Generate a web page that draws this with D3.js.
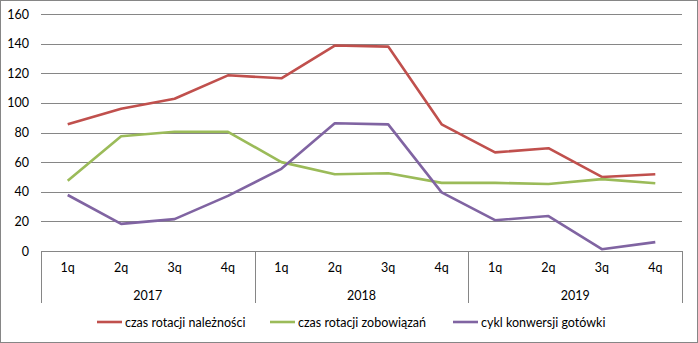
<!DOCTYPE html>
<html><head><meta charset="utf-8">
<script src="https://cdn.jsdelivr.net/npm/d3@7"></script>
<style>body{margin:0;background:#fff}svg{display:block}text{font-family:Lato,"Noto Sans",sans-serif;fill:#000}</style>
</head><body><svg id="c" width="698" height="343"></svg>
<script>
const quarters = ["1q","2q","3q","4q","1q","2q","3q","4q","1q","2q","3q","4q"];
const years = ["2017","2018","2019"];
const seriesNames = ["czas rotacji należności","czas rotacji zobowiązań","cykl konwersji gotówki"];
const receivables = [85.5, 96, 102.8, 118.6, 116.6, 138.7, 138, 85.5, 66.6, 69.4, 50, 51.8];
const payables = [47.5, 77.5, 80.5, 80.5, 60, 51.8, 52.5, 46, 46, 45.2, 48.5, 45.7];
const cashCycle = [37.8, 18.3, 21.5, 37.2, 55.5, 86.2, 85.5, 39.6, 20.8, 23.6, 1.2, 6];
const yTicks = [0,20,40,60,80,100,120,140,160];
const colors = ["#C0504D","#9BBB59","#8064A2"];

const svg = d3.select("#c");
svg.append("rect").attr("x",0.5).attr("y",0.5).attr("width",697).attr("height",342)
  .attr("fill","#fff").attr("stroke","#868686");

const L=41, R=682, T=14, B=251;
const x = d3.scaleBand().domain(d3.range(quarters.length)).range([L,R]);
const y = d3.scaleLinear().domain([0,160]).range([B,T]);

// gridlines
svg.append("g").selectAll("line").data(yTicks).join("line")
  .attr("x1",L).attr("x2",R).attr("y1",d=>Math.round(y(d))+0.5).attr("y2",d=>Math.round(y(d))+0.5)
  .attr("stroke","#868686").attr("stroke-width",1);

// y labels
const yAxis = d3.axisLeft(y).tickValues(yTicks).tickSize(0).tickPadding(12);
const gy = svg.append("g").attr("transform",`translate(${L},0)`).call(yAxis);
gy.select(".domain").remove();
gy.selectAll("text").style("font-size","12.5px").style("font-family","Lato,'Noto Sans',sans-serif");

// quarter labels
const xAxis = d3.axisBottom(x).tickFormat(i=>quarters[i]).tickSize(0).tickPadding(12);
const gx = svg.append("g").attr("transform",`translate(0,${Math.round(B)})`).call(xAxis);
gx.select(".domain").remove();
gx.selectAll("text").style("font-size","12.5px").style("font-family","Lato,'Noto Sans',sans-serif");

// year groups
const yearX = d3.scaleBand().domain(years).range([L,R]);
svg.append("g").selectAll("line").data([0,1,2,3]).join("line")
  .attr("x1",i=>Math.round(L+i*yearX.bandwidth())+0.5).attr("x2",i=>Math.round(L+i*yearX.bandwidth())+0.5)
  .attr("y1",B).attr("y2",303).attr("stroke","#868686");
svg.append("g").selectAll("text").data(years).join("text")
  .attr("x",d=>yearX(d)+yearX.bandwidth()/2).attr("y",299.5)
  .attr("text-anchor","middle").style("font-size","12.5px").text(d=>d);

// lines
const line = d3.line().x((d,i)=>x(i)+x.bandwidth()/2).y(d=>y(d));
[receivables,payables,cashCycle].forEach((s,k)=>{
  svg.append("path").datum(s).attr("d",line).attr("fill","none")
    .attr("stroke",colors[k]).attr("stroke-width",2.6).attr("stroke-linejoin","round");
});

// legend
const legX = [97, 270, 453];
const lg = svg.append("g");
seriesNames.forEach((n,k)=>{
  lg.append("line").attr("x1",legX[k]).attr("x2",legX[k]+25).attr("y1",322).attr("y2",322)
    .attr("stroke",colors[k]).attr("stroke-width",2.6);
  lg.append("text").attr("x",legX[k]+28).attr("y",326.5).style("font-size","12.5px").text(n);
});
</script></body></html>
